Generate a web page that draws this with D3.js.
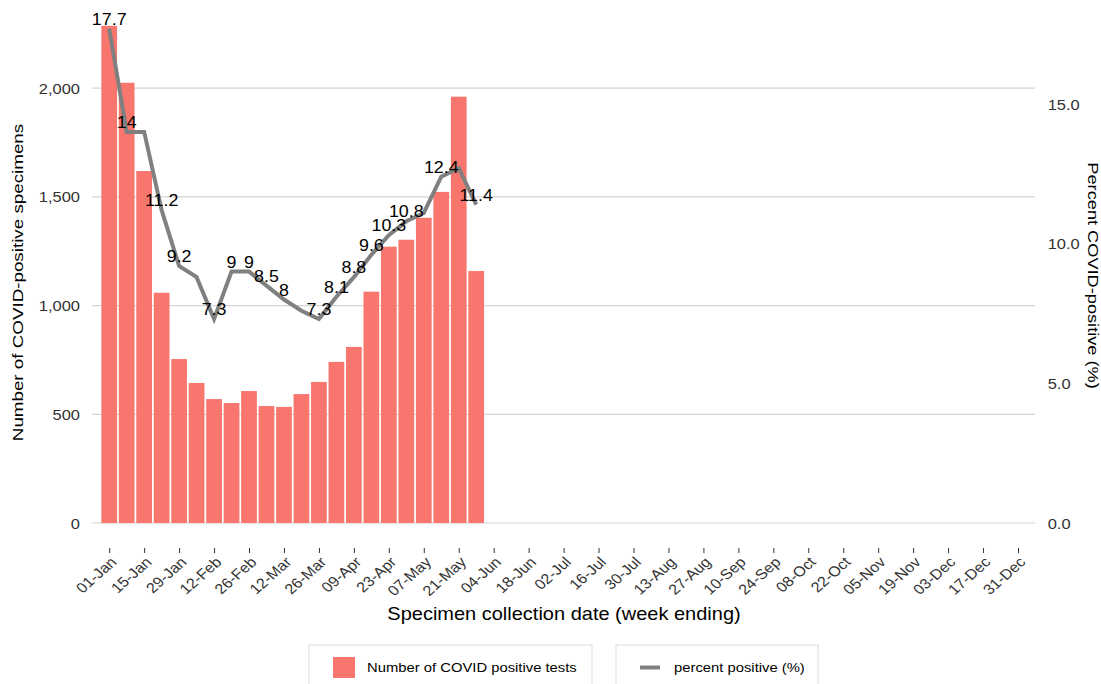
<!DOCTYPE html>
<html>
<head>
<meta charset="utf-8">
<script src="https://cdn.jsdelivr.net/npm/d3@7"></script>
<style>
  body { margin: 0; background: #fff; }
  svg { display: block; font-family: "Liberation Sans", Arial, sans-serif; }
</style>
</head>
<body>
<svg id="chart" width="1101" height="684"></svg>
<script>
// weekly data (week ending)
const weekEnding = ["01-Jan","08-Jan","15-Jan","22-Jan","29-Jan","05-Feb","12-Feb","19-Feb","26-Feb","05-Mar","12-Mar",
  "19-Mar","26-Mar","02-Apr","09-Apr","16-Apr","23-Apr","30-Apr","07-May","14-May","21-May","28-May"];
const positives = [2287, 2025, 1619, 1059, 754, 644, 570, 552, 607, 538, 534,
  593, 649, 741, 810, 1064, 1271, 1303, 1404, 1523, 1961, 1159];
const percentPositive = [17.7, 14.0, 14.0, 11.2, 9.2, 8.8, 7.3, 9.0, 9.0, 8.5, 8.0,
  7.6, 7.3, 8.1, 8.8, 9.6, 10.3, 10.8, 11.1, 12.4, 12.7, 11.4];
const hiddenLabels = [2, 5, 11, 18, 20]; // dropped because they overlap a neighbour

const xTickLabels = ["01-Jan","15-Jan","29-Jan","12-Feb","26-Feb","12-Mar","26-Mar","09-Apr","23-Apr","07-May","21-May",
  "04-Jun","18-Jun","02-Jul","16-Jul","30-Jul","13-Aug","27-Aug","10-Sep","24-Sep","08-Oct","22-Oct","05-Nov",
  "19-Nov","03-Dec","17-Dec","31-Dec"];
const leftTicks = [0, 500, 1000, 1500, 2000];
const rightTicks = [0, 5, 10, 15];

const YEAR = "2023";
const parse = d3.timeParse("%d-%b-%Y");
const toDate = s => parse(s + "-" + YEAR);

const barColor = "#F8766D";
const lineColor = "#808080";
const sx = 1.13; // glyphs in the source are a bit wider than Arial

const panel = { left: 92, right: 1035, top: 1, bottom: 549 };

const svg = d3.select("#chart");

const x = d3.scaleTime()
  .domain([toDate("01-Jan"), toDate("31-Dec")])
  .range([109.2, 1018]);
const yL = d3.scaleLinear().domain([0, 2000]).range([523, 88.2]);
const yR = d3.scaleLinear().domain([0, 15]).range([523, 104]);

// gridlines
svg.append("g")
  .selectAll("line")
  .data(leftTicks)
  .join("line")
    .attr("x1", panel.left)
    .attr("x2", panel.right)
    .attr("y1", d => yL(d))
    .attr("y2", d => yL(d))
    .attr("stroke", "#d4d4d4")
    .attr("stroke-width", 1.2);

// bars
const weeks = weekEnding.map(toDate);
const bw = 0.9 * (x(d3.timeDay.offset(weeks[0], 7)) - x(weeks[0]));
svg.append("g")
  .attr("fill", barColor)
  .selectAll("rect")
  .data(weeks)
  .join("rect")
    .attr("x", d => x(d) - bw / 2)
    .attr("width", bw)
    .attr("y", (d, i) => yL(positives[i]))
    .attr("height", (d, i) => yL(0) - yL(positives[i]));

// percent line
const line = d3.line()
  .x((d, i) => x(weeks[i]))
  .y(d => yR(d));
svg.append("path")
  .datum(percentPositive)
  .attr("fill", "none")
  .attr("stroke", lineColor)
  .attr("stroke-width", 4)
  .attr("d", line);

// point labels
svg.append("g")
  .attr("font-size", 15.8)
  .attr("fill", "#000")
  .attr("text-anchor", "middle")
  .selectAll("text")
  .data(percentPositive.map((v, i) => ({ v, i })).filter(d => !hiddenLabels.includes(d.i)))
  .join("text")
    .attr("transform", d => `translate(${x(weeks[d.i])},${yR(d.v) - 4}) scale(${sx},1)`)
    .text(d => String(d.v));

// x axis
const xAxis = svg.append("g")
  .attr("transform", `translate(0,${panel.bottom - 1})`)
  .call(d3.axisBottom(x)
    .tickValues(xTickLabels.map(toDate))
    .tickFormat(d3.timeFormat("%d-%b"))
    .tickSize(5));
xAxis.select(".domain").remove();
xAxis.selectAll(".tick line").attr("stroke", "#333");
xAxis.selectAll(".tick text")
  .attr("x", 0).attr("y", 0).attr("dy", null)
  .attr("text-anchor", "end")
  .attr("font-size", 14.3)
  .attr("font-family", null)
  .attr("fill", "#333")
  .attr("transform", `translate(8,15) scale(${sx},1) rotate(-45)`);

// left axis
const yAxisL = svg.append("g")
  .attr("transform", `translate(${panel.left},0)`)
  .call(d3.axisLeft(yL).tickValues(leftTicks).tickFormat(d3.format(",")).tickSize(0));
yAxisL.select(".domain").remove();
yAxisL.selectAll(".tick text")
  .attr("x", 0).attr("dy", null).attr("y", 5)
  .attr("font-size", 14.6)
  .attr("font-family", null)
  .attr("fill", "#333")
  .attr("transform", `translate(-12,0) scale(${sx},1)`);

// right axis
const yAxisR = svg.append("g")
  .attr("transform", `translate(${panel.right},0)`)
  .call(d3.axisRight(yR).tickValues(rightTicks).tickFormat(d3.format(".1f")).tickSize(0));
yAxisR.select(".domain").remove();
yAxisR.selectAll(".tick text")
  .attr("x", 0).attr("dy", null).attr("y", 5)
  .attr("font-size", 14.6)
  .attr("font-family", null)
  .attr("fill", "#333")
  .attr("transform", `translate(12.7,0) scale(${sx},1)`);

// axis titles
svg.append("text")
  .attr("transform", `translate(564,620) scale(${sx},1)`)
  .attr("text-anchor", "middle")
  .attr("font-size", 17.7)
  .text("Specimen collection date (week ending)");

svg.append("text")
  .attr("transform", "translate(22.7,282.5) rotate(-90) scale(1.27,1)")
  .attr("text-anchor", "middle")
  .attr("font-size", 14.8)
  .text("Number of COVID-positive specimens");

svg.append("text")
  .attr("transform", "translate(1088,275.6) rotate(90) scale(1.23,1)")
  .attr("text-anchor", "middle")
  .attr("font-size", 14.8)
  .text("Percent COVID-positive (%)");

// legends (two separate boxes)
const legend = svg.append("g").attr("font-size", 13);
const box1 = legend.append("g").attr("transform", "translate(309,645)");
box1.append("rect").attr("width", 283).attr("height", 50)
  .attr("fill", "#fff").attr("stroke", "#dcdcdc");
box1.append("rect").attr("x", 24).attr("y", 12).attr("width", 22).attr("height", 21)
  .attr("fill", barColor);
box1.append("text").attr("transform", `translate(58,27) scale(1.14,1)`)
  .text("Number of COVID positive tests");

const box2 = legend.append("g").attr("transform", "translate(616,645)");
box2.append("rect").attr("width", 202).attr("height", 50)
  .attr("fill", "#fff").attr("stroke", "#dcdcdc");
box2.append("line").attr("x1", 24).attr("x2", 44).attr("y1", 22.5).attr("y2", 22.5)
  .attr("stroke", lineColor).attr("stroke-width", 4);
box2.append("text").attr("transform", `translate(58,27) scale(1.14,1)`)
  .text("percent positive (%)");
</script>
</body>
</html>
